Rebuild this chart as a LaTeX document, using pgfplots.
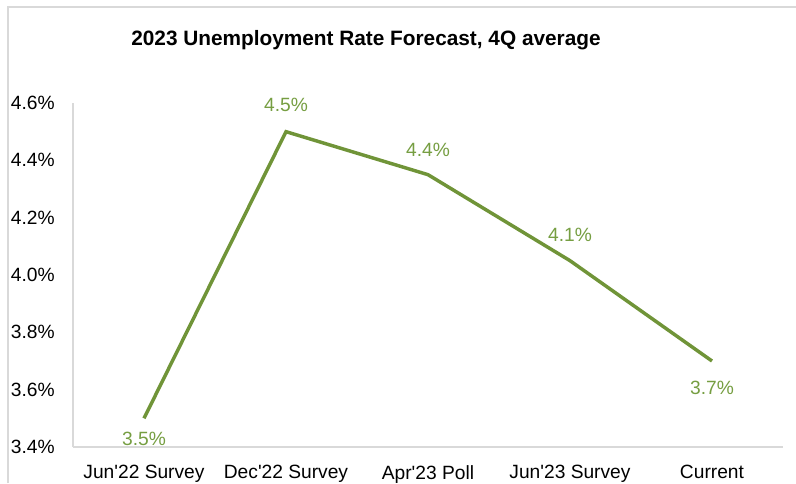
\documentclass[border=0pt]{standalone}
\usepackage{fontspec}
\setmainfont{Liberation Sans}
\usepackage{pgfplots}
\pgfplotsset{compat=1.18}
\usepackage{pgfplotstable}
\definecolor{lineg}{RGB}{112,148,56}
\definecolor{labg}{RGB}{118,158,66}
\definecolor{axg}{RGB}{217,217,217}
\pgfplotstableread{
x y lab dy
0 3.50 3.5 -15.75
1 4.50 4.5 20.25
2 4.35 4.4 18.75
3 4.05 4.1 19.5
4 3.70 3.7 -20.25
}\datatable
\begin{document}
\begin{tikzpicture}
\path[use as bounding box] (0,0) rectangle (597pt,-362.25pt);
\draw[axg, line width=0.9pt] (6pt,-362.25pt) -- (6pt,-5.25pt) -- (597pt,-5.25pt);
\node[font=\fontsize{15.6}{18}\selectfont\bfseries] at (274.5pt,-30pt) {2023 Unemployment Rate Forecast, 4Q average};
\begin{axis}[
  at={(54.75pt,-335.25pt)}, anchor=south west,
  scale only axis, width=532.5pt, height=258pt,
  xmin=-0.5, xmax=4.5, ymin=3.4, ymax=4.6,
  axis x line*=bottom, axis y line*=left,
  axis line style={-, draw=axg, line width=0.9pt},
  xtick={0,1,2,3,4},
  xticklabels={Jun\textquotesingle22 Survey, Dec\textquotesingle22 Survey, Apr\textquotesingle23 Poll, Jun\textquotesingle23 Survey, Current},
  ytick={3.4,3.6,3.8,4.0,4.2,4.4,4.6},
  yticklabel={\pgfmathprintnumber[fixed,fixed zerofill,precision=1]{\tick}\%},
  /pgf/number format/assume math mode=true,
  major tick length=0pt,
  tick label style={font=\fontsize{14.4}{16}\selectfont},
  yticklabel style={anchor=east, inner sep=0pt, xshift=-13.5pt},
  xticklabel style={anchor=north, inner sep=0pt, yshift=-13.5pt},
  clip=false,
]
\addplot[lineg, line width=2.6pt,
  nodes near coords={\pgfmathprintnumber[fixed,fixed zerofill,precision=1]{\pgfplotspointmeta}\%},
  point meta=explicit,
  visualization depends on={\thisrow{dy} \as \dy},
  nodes near coords style={anchor=center, yshift=\dy pt, font=\fontsize{14.4}{16}\selectfont, text=labg, inner sep=0pt}
] table[x=x, y=y, meta=lab]{\datatable};
\end{axis}
\end{tikzpicture}
\end{document}
